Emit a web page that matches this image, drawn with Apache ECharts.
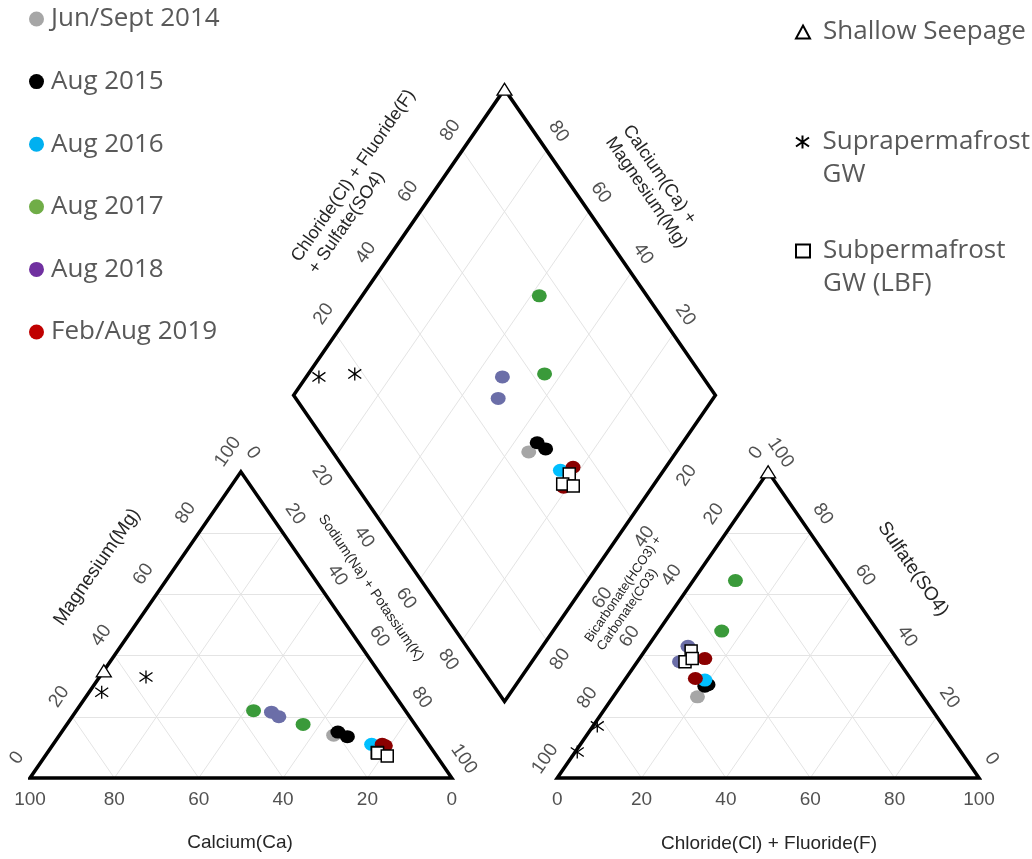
<!DOCTYPE html>
<html>
<head>
<meta charset="utf-8">
<script src="https://cdn.jsdelivr.net/npm/echarts@6/dist/echarts.min.js"></script>
<style>
  html, body { margin: 0; padding: 0; background: #ffffff; }
  #chart { width: 1032px; height: 859px; }
</style>
</head>
<body>
<div id="chart"></div>
<script>
// Sample groups, in legend order (also the series names)
const groups = ['Jun/Sept 2014', 'Aug 2015', 'Aug 2016', 'Aug 2017', 'Aug 2018', 'Feb/Aug 2019',
                'Shallow Seepage', 'Suprapermafrost GW', 'Subpermafrost GW (LBF)'];

// Cations, % of meq sum: [Ca, Mg, Na+K]
const cat2014  = [[21, 14, 65]];
const cat2015  = [[19.5, 15, 65.5], [18, 13.5, 68.5]];
const cat2016  = [[13.5, 11, 75.5]];
const cat2017  = [[36, 22, 42], [26.5, 17.5, 56]];
const cat2018  = [[32, 21.5, 46.5], [31, 20, 49]];
const cat2019  = [[11, 11, 78], [10.5, 10.5, 79]];
const catSeep  = [[65, 35, 0]];
const catSupra = [[69, 28, 3], [56, 33, 11]];
const catSub   = [[13.5, 8.3, 78.2], [13.5, 8.2, 78.3], [11.7, 7.2, 81.1]];

// Anions, % of meq sum: [HCO3+CO3, Cl+F, SO4]
const an2014  = [[53.5, 20, 26.5]];
const an2015  = [[50, 20, 30], [49, 20.5, 30.5]];
const an2016  = [[49, 19, 32]];
const an2017  = [[25.5, 10, 64.5], [37, 15, 48]];
const an2018  = [[47.5, 9.5, 43], [52, 10, 38]];
const an2019  = [[45.5, 15.5, 39], [51, 16.5, 32.5]];
const anSeep  = [[0, 0, 100]];
const anSupra = [[91, 0.5, 8.5], [82, 1, 17]];
const anSub   = [[47.5, 11, 41.5], [50.7, 11.3, 38], [48.5, 12.5, 39]];

// Tick values on the ternary edges
const ticks = [0, 20, 40, 60, 80, 100];
const gridTicks = [20, 40, 60, 80];

const markerColors = ['#a6a6a6', '#000000', '#00bfff', '#3a9a3a', '#6b6ea8', '#8b0000'];
const legendColors = ['#a6a6a6', '#000000', '#00b0f0', '#70ad47', '#7030a0', '#c00000'];

// ---- Piper geometry (data units: triangle side = 100) ----
const H = Math.sqrt(3) / 2;
const GAP = 25;                 // space between the two triangles
const AX = 100 + GAP;           // left corner of the anion triangle
const X_MAX = 225, Y_MAX = 200;
const GRID = { left: 30, top: 71, width: 949, height: 707 };
const PX = GRID.width / X_MAX;  // pixels per unit, x
const PY = GRID.height / Y_MAX; // pixels per unit, y
const ROT = Math.atan2(100 * H * PY, 50 * PX) * 180 / Math.PI; // edge slope on screen
const RAD = ROT * Math.PI / 180;

const cationXY = ([ca, mg, nak]) => [nak + mg / 2, mg * H];
const anionXY = ([hc, cl, so4]) => [AX + cl + so4 / 2, so4 * H];
// c = Ca+Mg, a = Cl+F+SO4
const diamondXY = (c, a) => [100 + GAP / 2 + (a - c) / 2, GAP * H + (a + c) * H];
const shift = (p, dx, dy) => [p[0] + dx / PX, p[1] - dy / PY];

function samplePoints(cats, ans) {
  const pts = [];
  cats.forEach(v => pts.push(cationXY(v)));
  ans.forEach(v => pts.push(anionXY(v)));
  cats.forEach((v, i) => pts.push(diamondXY(v[0] + v[1], ans[i][1] + ans[i][2])));
  return pts;
}

const sampleSets = [
  [cat2014, an2014], [cat2015, an2015], [cat2016, an2016], [cat2017, an2017],
  [cat2018, an2018], [cat2019, an2019], [catSeep, anSeep], [catSupra, anSupra], [catSub, anSub]
];

// Outlines (the first two vertices are repeated so every corner gets a mitred join)
const leftTri = [cationXY([100, 0, 0]), cationXY([0, 0, 100]), cationXY([0, 100, 0])];
const rightTri = [anionXY([100, 0, 0]), anionXY([0, 100, 0]), anionXY([0, 0, 100])];
const diamond = [diamondXY(0, 0), diamondXY(0, 100), diamondXY(100, 100), diamondXY(100, 0)];
const closed = v => v.concat([v[0], v[1]]);

// Light inner grid
const gridSegs = [];
gridTicks.forEach(k => {
  gridSegs.push([cationXY([100 - k, k, 0]), cationXY([0, k, 100 - k])]);
  gridSegs.push([cationXY([k, 0, 100 - k]), cationXY([k, 100 - k, 0])]);
  gridSegs.push([cationXY([100 - k, 0, k]), cationXY([0, 100 - k, k])]);
  gridSegs.push([anionXY([100 - k, 0, k]), anionXY([0, 100 - k, k])]);
  gridSegs.push([anionXY([k, 0, 100 - k]), anionXY([k, 100 - k, 0])]);
  gridSegs.push([anionXY([100 - k, k, 0]), anionXY([0, k, 100 - k])]);
  gridSegs.push([diamondXY(k, 0), diamondXY(k, 100)]);
  gridSegs.push([diamondXY(0, k), diamondXY(100, k)]);
});

// Edge tick labels
const tickItems = [];
const addTick = (pt, t, dx, dy, rot) =>
  tickItems.push({ value: shift(pt, dx, dy), tickText: String(t), label: { rotate: rot } });
ticks.forEach(t => {
  addTick(cationXY([t, 0, 100 - t]), t, 0, 22, 0);
  addTick(cationXY([100 - t, t, 0]), t, -13, -20, ROT);
  addTick(cationXY([0, 100 - t, t]), t, 12, -19, -ROT);
  addTick(anionXY([100 - t, t, 0]), t, 0, 22, 0);
  addTick(anionXY([t, 0, 100 - t]), t, -12, -19, ROT);
  addTick(anionXY([0, 100 - t, t]), t, 12.5, -19, -ROT);
});
gridTicks.forEach(t => {
  addTick(diamondXY(100, t), t, -12, -20, ROT);
  addTick(diamondXY(t, 100), t, 12, -19, -ROT);
  addTick(diamondXY(100 - t, 0), t, -14, 19.5, -ROT);
  addTick(diamondXY(0, 100 - t), t, 13.5, 19, ROT);
});

const ASTERISK = 'path://M10,0L10,20M0,3L20,17M0,17L20,3';

function sampleSeries(name, i) {
  const s = {
    type: 'scatter', name, data: samplePoints(sampleSets[i][0], sampleSets[i][1]),
    z: 10 + i, clip: false, emphasis: { disabled: true }
  };
  if (i < 6) {
    s.symbol = 'circle'; s.symbolSize = [15, 13];
    s.itemStyle = { color: markerColors[i], opacity: 1 };
  } else if (i === 6) {
    s.symbol = 'triangle'; s.symbolSize = [15, 12];
    s.itemStyle = { color: '#ffffff', borderColor: '#000000', borderWidth: 1.3, opacity: 1 };
  } else if (i === 7) {
    s.symbol = ASTERISK; s.symbolSize = [13, 13];
    s.itemStyle = { color: '#000000', borderColor: '#000000', borderWidth: 1.3, opacity: 1 };
  } else {
    s.symbol = 'rect'; s.symbolSize = 12;
    s.itemStyle = { color: '#ffffff', borderColor: '#000000', borderWidth: 1.5, opacity: 1 };
  }
  return s;
}

const chartText = '#262626';
const labelFont = 'Liberation Sans';
const legendText = { fontFamily: 'Open Sans', fontSize: 26, color: '#595959' };

function title(text, x, y, rot, size, align, lineHeight) {
  return {
    type: 'text', x, y, rotation: rot, silent: true,
    style: {
      text, fontFamily: labelFont, fontSize: size, fill: chartText,
      align: align || 'center', verticalAlign: 'middle', lineHeight: lineHeight || size + 3
    }
  };
}

// Right-hand key: one legend per entry; a leading blank line keeps the
// symbol level with the first text line of two-line entries.
const sideLegend = (name, top, lineHeight, twoLines, icon) => ({
  data: [icon ? { name, icon } : { name }],
  left: 795, top, padding: 0, itemWidth: 14, itemHeight: 13, selectedMode: false,
  formatter: n => (twoLines ? '\n' : '') + n.replace(' GW', '\nGW'),
  textStyle: Object.assign({}, legendText, { lineHeight, padding: [0, 0, 0, 8] })
});

const option = {
  backgroundColor: '#ffffff',
  animation: false,
  grid: GRID,
  xAxis: { type: 'value', min: 0, max: X_MAX, show: false },
  yAxis: { type: 'value', min: 0, max: Y_MAX, show: false },
  legend: [
    {
      data: groups.slice(0, 6).map((n, i) => ({ name: n, icon: 'circle', itemStyle: { color: legendColors[i] } })),
      orient: 'vertical', left: 29, top: 5, padding: 0,
      itemWidth: 15, itemHeight: 15, itemGap: 34.6, selectedMode: false,
      textStyle: Object.assign({}, legendText, { lineHeight: 28, padding: [0, 0, 0, 2] })
    },
    sideLegend('Shallow Seepage', 16, 32, false),
    sideLegend('Suprapermafrost GW', 92.5, 33, true, ASTERISK),
    sideLegend('Subpermafrost GW (LBF)', 201.5, 33, true)
  ],
  graphic: [
    title('Calcium(Ca)', 240, 843, 0, 19),
    title('Chloride(Cl) + Fluoride(F)', 769, 844, 0, 19),
    title('Magnesium(Mg)', 97, 567, RAD, 19),
    title('Sodium(Na) + Potassium(K)', 371, 588, -RAD, 14),
    title('Sulfate(SO4)', 913, 569, -RAD, 19),
    title('Bicarbonate(HCO3) +\nCarbonate(CO3)', 594, 645, RAD, 13, 'left', 15),
    title('Chloride(Cl) + Fluoride(F)\n+ Sulfate(SO4)', 304, 266, RAD, 18, 'left', 21),
    title('Calcium(Ca) +\nMagnesium(Mg)', 618, 133, -RAD, 18, 'left', 21)
  ],
  series: [
    {
      type: 'lines', coordinateSystem: 'cartesian2d', silent: true, z: 1,
      lineStyle: { color: '#e4e4e4', width: 1, opacity: 1 },
      data: gridSegs.map(c => ({ coords: c }))
    },
    ...[leftTri, rightTri, diamond].map(v => ({
      type: 'line', data: closed(v), symbol: 'none', silent: true, z: 5, clip: false,
      lineStyle: { color: '#000000', width: 3.5, join: 'miter' }
    })),
    {
      type: 'scatter', data: tickItems, symbolSize: 1, silent: true, z: 4, clip: false,
      itemStyle: { color: 'rgba(0,0,0,0)' },
      label: {
        show: true, position: 'inside', formatter: p => p.data.tickText,
        fontFamily: labelFont, fontSize: 19, color: chartText
      }
    },
    ...groups.map(sampleSeries)
  ]
};

const chart = echarts.init(document.getElementById('chart'), null, { renderer: 'canvas' });
chart.setOption(option);
</script>
</body>
</html>
